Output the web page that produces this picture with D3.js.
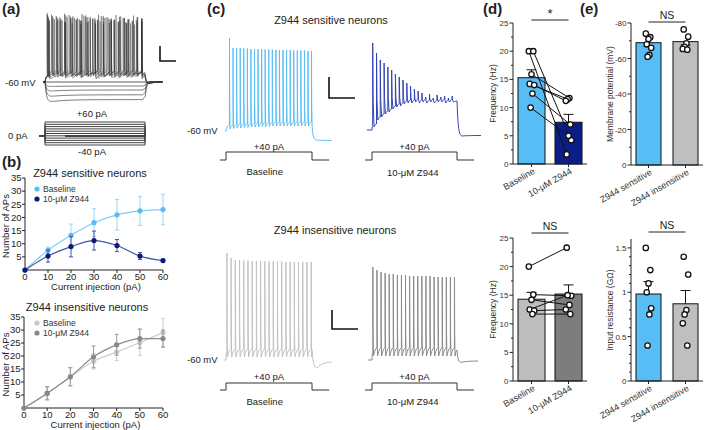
<!DOCTYPE html>
<html><head><meta charset="utf-8">
<script src="https://cdn.jsdelivr.net/npm/d3@7"></script>
<style>
body{margin:0;background:#fff}
svg{display:block}
text{font-family:"Liberation Sans",Arial,sans-serif;fill:#222}
</style>
</head><body>
<svg id="fig" width="709" height="430"></svg>
<script>
// ---------------- DATA ----------------
// (b) current–frequency curves
const currents = [0, 10, 20, 30, 40, 50, 60];
const sensBase = [0, 7.5, 13.2, 18, 21, 22.5, 23];
const sensBaseErr = [0, 1.2, 4.3, 5.3, 5.8, 5.5, 5.8];
const sensZ = [0, 5.3, 8.9, 11.2, 9.3, 5.3, 3.6];
const sensZErr = [0, 2.3, 3.9, 3.6, 2.3, 1.3, 0.5];
const insBase = [0, 5.5, 12, 18, 21.5, 25.2, 29];
const insBaseErr = [0, 2.5, 3.5, 3, 3.2, 5, 5.5];
const insZ = [0, 5.7, 12, 19.7, 24.3, 26.7, 26.7];
const insZErr = [0, 2.5, 3.5, 4.2, 4, 3.7, 3.3];
const bTicksY = [5, 10, 15, 20, 25, 30, 35];
const bTicksX = [0, 10, 20, 30, 40, 50, 60];
const legendLabels = ["Baseline", "10-\u03bcM Z944"];

// (d) firing frequency
const groups = ["Baseline", "10-\u03bcM Z944"];
const freqSensMean = [15.3, 7.4];
const freqSensSem = [1.4, 1.4];
const freqSensBase = [20, 20, 15.9, 14.2, 14, 12.5, 10];
const freqSensZ = [1.7, 4.2, 11.7, 11.5, 11.2, 7, 5];
const freqInsMean = [14.3, 15.2];
const freqInsSem = [1.2, 1.6];
const freqInsBase = [20, 15.1, 14.2, 12.5, 12.3, 11.7];
const freqInsZ = [23.3, 14.9, 13.3, 15.0, 12.5, 11.7];
const freqTicks = [0, 5, 10, 15, 20, 25];

// (e) passive properties
const cellTypes = ["Z944 sensitive", "Z944 insensitive"];
const vmMean = [-68.9, -69.5];
const vmSem = [2.1, 1.9];
const vmSens = [-74, -72, -71, -68, -66, -62, -61];
const vmIns = [-76.4, -72.3, -68.5, -66.6, -65.4, -65];
const vmTicks = [0, -20, -40, -60, -80];
const rinMean = [0.98, 0.87];
const rinSem = [0.14, 0.15];
const rinSens = [1.5, 1.25, 1.1, 1.0, 0.82, 0.75, 0.4];
const rinIns = [1.4, 1.2, 0.8, 0.75, 0.65, 0.4];
const rinTicks = [0, 0.5, 1, 1.5];

// (a) example family of responses
const aDepolCurrents = [10, 20, 30, 40, 50, 60];
const aSpikeCounts = [7, 13, 18, 21, 22, 23];
const aHyperCurrents = [-40, -30, -20, -10];
const aHyperSteady = [-82, -76, -70, -65];
const aHyperPeak = [-86, -79, -72, -66];
const protocolCurrents = [-40, -30, -20, -10, 0, 10, 20, 30, 40, 50, 60];

// (c) example traces (spike times in ms from step onset, peaks/troughs in mV)
const cSensBaseTimes = [40,82,123,165,206,248,289,331,372,414,455,497,538,580,621,663,704,746,787,829,870,912,953,994];
const cSensBasePeaks = [33,23,23,23,22.5,22.5,22,22,22,22,21.5,21.5,21.5,21,21,21,21,21,20.5,20.5,20.5,20.5,20,20];
const cSensBaseTroughs = [-58,-57.5,-57,-57,-56.5,-56.5,-56,-56,-56,-55.5,-55.5,-55.5,-55,-55,-55,-55,-55,-55,-55,-55,-55,-55,-55,-55];
const cSensZTimes = [8,53,97,142,186,231,275,320,364,409,453,498,542,587,631,676,720,765,809,854,898,943];
const cSensZPeaks = [28,18,11,8,4,1,-3,-6,-9,-12,-15,-18,-20,-22,-26,-23,-27,-24,-26,-25,-27,-25];
const cSensZTroughs = [-56,-49,-46,-43,-41,-38,-36,-35,-33,-32,-32,-31,-32,-31,-32,-31,-32,-31,-31,-32,-31,-31];
const cInsBaseTimes = [10,59,108,157,206,255,304,353,402,451,500,549,598,647,696,745,794,843,892,941,990];
const cInsBasePeaks = [47,42,40,40,39.5,39.5,39,39,39,39,38.5,38.5,38.5,38.5,38,38,38,38,38,38,38];
const cInsBaseTroughs = [-57,-57,-57,-57,-57,-57,-57,-57,-57,-57,-57,-57,-57,-57,-57,-57,-57,-57,-57,-57,-57];
const cInsZTimes = [10,58,106,154,202,250,298,346,394,442,490,538,586,634,682,730,778,826,874,922,970];
const cInsZPeaks = [33,30,28,27,26,26,25,25,25,24,24,24,24,24,24,23,23,23,23,23,23];
const cInsZTroughs = [-56,-56,-56,-56,-56,-56,-56,-56,-56,-56,-56,-56,-56,-56,-56,-56,-56,-56,-56,-56,-56];

// ---------------- HELPERS ----------------
const svg = d3.select("#fig");
svg.append("rect").attr("width", 709).attr("height", 430).attr("fill", "#fff");

function txt(x, y, s, o = {}) {
  const t = svg.append("text").attr("x", x).attr("y", y).text(s)
    .attr("font-size", o.size || 10)
    .attr("text-anchor", o.anchor || "start")
    .attr("font-weight", o.weight || "normal");
  if (o.rotate !== undefined) t.attr("transform", `rotate(${o.rotate},${x},${y})`);
  if (o.fill) t.style("fill", o.fill);
  return t;
}

function buildTrace(o) {
  const pts = [[o.tStart, o.base], [0, o.base]];
  const n = o.times.length;
  const thr = i => (i === 0 ? o.base + o.gap0 : o.troughs[i - 1] + o.gap);
  for (let i = 0; i < n; i++) {
    const ts = o.times[i];
    if (i === 0) {
      for (let k = 1; k <= 6; k++) {
        const u = k / 6;
        pts.push([ts * u, o.base + (thr(0) - o.base) * (1 - Math.exp(-3 * u)) / (1 - Math.exp(-3))]);
      }
    }
    pts.push([ts + 0.4, o.peaks[i]]);
    pts.push([ts + o.fall * 0.35, o.peaks[i] * 0.3 + o.troughs[i] * 0.7]);
    pts.push([ts + o.fall, o.troughs[i]]);
    const tNext = i < n - 1 ? o.times[i + 1] : 1000;
    const vNext = i < n - 1 ? thr(i + 1) : o.plateau;
    const t0 = ts + o.fall;
    if (tNext > t0) {
      for (let k = 1; k <= 6; k++) {
        const u = k / 6;
        pts.push([t0 + (tNext - t0) * u, o.troughs[i] + (vNext - o.troughs[i]) * (1 - (1 - u) * (1 - u))]);
      }
    }
  }
  const vOff = pts[pts.length - 1][1];
  for (let k = 1; k <= 8; k++) {
    const u = k / 8;
    pts.push([1000 + o.drop * u, vOff + (o.vMin - vOff) * (1 - Math.exp(-4 * u)) / (1 - Math.exp(-4))]);
  }
  const t1 = 1000 + o.drop;
  for (let k = 1; k <= 10; k++) {
    const u = k / 10;
    pts.push([t1 + (o.tEnd - t1) * u, o.vMin + (o.vEnd - o.vMin) * (1 - Math.exp(-3 * u)) / (1 - Math.exp(-3))]);
  }
  return pts;
}

function drawPath(pts, xs, ys, color, w, op) {
  svg.append("path").datum(pts)
    .attr("d", d3.line().x(d => xs(d[0])).y(d => ys(d[1])))
    .attr("fill", "none").attr("stroke", color).attr("stroke-width", w || 1)
    .attr("stroke-opacity", op === undefined ? 1 : op).attr("stroke-linejoin", "round");
}

function stepProtocol(xs, yp, level, tA, tB, col) {
  const pts = [[tA, 0], [0, 0], [0, level], [1000, level], [1000, 0], [tB, 0]];
  svg.append("path").datum(pts)
    .attr("d", d3.line().x(d => xs(d[0])).y(d => yp(d[1])))
    .attr("fill", "none").attr("stroke", col || "#333").attr("stroke-width", 1);
}

function scaleBar(x, y1, y2, x2) {
  svg.append("path").attr("d", `M${x},${y1}V${y2}H${x2}`)
    .attr("fill", "none").attr("stroke", "#111").attr("stroke-width", 1.6);
}

// ---------------- PANEL LABELS ----------------
txt(2, 14, "(a)", {size: 15, weight: "bold"});
txt(2, 167, "(b)", {size: 15, weight: "bold"});
txt(207, 14, "(c)", {size: 15, weight: "bold"});
txt(483, 14, "(d)", {size: 15, weight: "bold"});
txt(580, 14, "(e)", {size: 15, weight: "bold"});

// ---------------- PANEL A ----------------
{
  const xa = d3.scaleLinear().domain([0, 1000]).range([45, 145]);
  const ya = d3.scaleLinear().domain([-60, 30]).range([82, 10]);
  aHyperCurrents.forEach((c, k) => {
    const st = aHyperSteady[k], pk = aHyperPeak[k];
    const pts = [[-20, -60], [0, -60]];
    for (let t = 2; t <= 1000; t += (t < 100 ? 3 : 25)) {
      const a = 1 - Math.exp(-t / 15);
      pts.push([t, -60 + (st + 60) * a + (pk - st) * a * Math.exp(-t / 150)]);
    }
    const vOff = pts[pts.length - 1][1];
    for (let t = 1003; t <= 1180; t += (t < 1100 ? 4 : 20)) {
      pts.push([t, -60 + (vOff + 60) * Math.exp(-(t - 1000) / 15) + 1.5 * Math.exp(-(t - 1000) / 60) * (1 - Math.exp(-(t - 1000) / 15))]);
    }
    drawPath(pts, xa, ya, "#444", 0.7);
  });
  drawPath([[-20, -60], [1180, -60]], xa, ya, "#333", 0.8);
  aDepolCurrents.forEach((c, k) => {
    const n = aSpikeCounts[k];
    const first = 45 - k * 5;
    const times = d3.range(n).map(i => first + i * (965 - first) / Math.max(1, n - 1) + (i % 3) * 3);
    const peaks = times.map((t, i) => 16 + k * 2 - i * 0.15 - (i % 4) * 1.5);
    const troughs = times.map((t, i) => -56 + k * 0.8 + (i % 3));
    const pts = buildTrace({tStart: -20, tEnd: 1180, base: -60, times, peaks, troughs,
      gap0: 8, gap: 5, fall: 6, plateau: -53 + k, drop: 40, vMin: -62, vEnd: -60});
    drawPath(pts, xa, ya, "#333", 0.5, 0.8);
  });
  scaleBar(160, 46, 61, 176);
  txt(5, 86, "-60 mV", {size: 9.5});
  const yp = d3.scaleLinear().domain([-40, 60]).range([145, 122]);
  protocolCurrents.forEach(c => stepProtocol(xa, yp, c, -60, 200, "#444"));
  txt(92, 117, "+60 pA", {size: 9.5, anchor: "middle"});
  txt(92, 155, "-40 pA", {size: 9.5, anchor: "middle"});
  txt(8, 139, "0 pA", {size: 9.5});
}

// ---------------- PANEL B ----------------
function drawCurve(cfg) {
  const x = d3.scaleLinear().domain([0, 60]).range([cfg.x0, cfg.x1]);
  const y = d3.scaleLinear().domain([0, 35]).range([cfg.y0, cfg.y1]);
  const g = svg.append("g");
  g.append("line").attr("x1", x(0)).attr("x2", x(60)).attr("y1", y(0)).attr("y2", y(0)).attr("stroke", "#222");
  g.append("line").attr("x1", x(0)).attr("x2", x(0)).attr("y1", y(0)).attr("y2", y(35)).attr("stroke", "#222");
  bTicksY.forEach(v => {
    g.append("line").attr("x1", x(0) - 3).attr("x2", x(0)).attr("y1", y(v)).attr("y2", y(v)).attr("stroke", "#222");
    txt(x(0) - 3.5, y(v) + 3.3, v, {size: 9.5, anchor: "end"});
  });
  bTicksX.forEach(v => {
    g.append("line").attr("x1", x(v)).attr("x2", x(v)).attr("y1", y(0)).attr("y2", y(0) + 3).attr("stroke", "#222");
    txt(x(v), cfg.y0 + 10, v, {size: 9.5, anchor: "middle"});
  });
  txt((cfg.x0 + cfg.x1) / 2 + 2, cfg.y0 + 20, "Current injection (pA)", {size: 9.5, anchor: "middle"});
  txt(8.5, (cfg.y0 + cfg.y1) / 2 + 2, "Number of APs", {size: 9.5, anchor: "middle", rotate: -90});
  txt(cfg.titleX, cfg.titleY, cfg.title, {size: 11, anchor: "middle"});
  cfg.series.forEach(s => {
    currents.forEach((c, i) => {
      if (s.err[i] <= 0) return;
      const cx = x(c);
      g.append("path").attr("d", `M${cx},${y(s.vals[i] - s.err[i])}V${y(s.vals[i] + s.err[i])}M${cx - 2},${y(s.vals[i] - s.err[i])}h4M${cx - 2},${y(s.vals[i] + s.err[i])}h4`)
        .attr("stroke", s.errColor).attr("stroke-width", 1).attr("fill", "none");
    });
    g.append("path").datum(currents.map((c, i) => [c, s.vals[i]]))
      .attr("d", d3.line().x(d => x(d[0])).y(d => y(d[1])).curve(d3.curveMonotoneX))
      .attr("fill", "none").attr("stroke", s.lineColor).attr("stroke-width", 1.2);
    currents.forEach((c, i) => {
      g.append("circle").attr("cx", x(c)).attr("cy", y(s.vals[i])).attr("r", 2.6).attr("fill", s.color);
    });
  });
  cfg.series.forEach((s, k) => {
    g.append("circle").attr("cx", 37).attr("cy", cfg.legY + k * 10).attr("r", 2.6).attr("fill", s.color);
    txt(43, cfg.legY + k * 10 + 3, legendLabels[k], {size: 8.5, fill: "#333"});
  });
}
drawCurve({x0: 25, x1: 163, y0: 270, y1: 178, title: "Z944 sensitive neurons", titleX: 90, titleY: 177, legY: 189,
  series: [
    {vals: sensBase, err: sensBaseErr, color: "#58bdf5", lineColor: "#7fcdf6", errColor: "#97d5f7"},
    {vals: sensZ, err: sensZErr, color: "#0b1a78", lineColor: "#4455aa", errColor: "#4455aa"}
  ]});
drawCurve({x0: 24, x1: 163, y0: 408, y1: 317, title: "Z944 insensitive neurons", titleX: 87, titleY: 311, legY: 323,
  series: [
    {vals: insBase, err: insBaseErr, color: "#c8c8c8", lineColor: "#cccccc", errColor: "#cccccc"},
    {vals: insZ, err: insZErr, color: "#888888", lineColor: "#8c8c8c", errColor: "#999999"}
  ]});

// ---------------- PANEL C ----------------
{
  const xB = d3.scaleLinear().domain([0, 1000]).range([226, 312]);
  const xZ = d3.scaleLinear().domain([0, 1000]).range([372, 457]);
  const yTop = d3.scaleLinear().domain([-60, 0]).range([131, 71]);
  const yBot = d3.scaleLinear().domain([-60, 0]).range([360, 300]);
  const pTop = d3.scaleLinear().domain([0, 40]).range([160, 152]);
  const pBot = d3.scaleLinear().domain([0, 40]).range([390, 383]);

  txt(331, 24, "Z944 sensitive neurons", {size: 11, anchor: "middle"});
  txt(335, 234, "Z944 insensitive neurons", {size: 11, anchor: "middle"});

  drawPath(buildTrace({tStart: -12, tEnd: 1230, base: -60, times: cSensBaseTimes, peaks: cSensBasePeaks, troughs: cSensBaseTroughs,
    gap0: 6, gap: 4, fall: 7, plateau: -52, drop: 50, vMin: -69, vEnd: -69.5}), xB, yTop, "#5bbff5", 1);
  drawPath(buildTrace({tStart: -59, tEnd: 1282, base: -59, times: cSensZTimes, peaks: cSensZPeaks, troughs: cSensZTroughs,
    gap0: 5, gap: 3, fall: 16, plateau: -30, drop: 55, vMin: -65, vEnd: -64.5}), xZ, yTop, "#3344b5", 1);
  drawPath(buildTrace({tStart: -23, tEnd: 1233, base: -60, times: cInsBaseTimes, peaks: cInsBasePeaks, troughs: cInsBaseTroughs,
    gap0: 9, gap: 8, fall: 7, plateau: -50, drop: 60, vMin: -68, vEnd: -62}), xB, yBot, "#c2c2c2", 1);
  drawPath(buildTrace({tStart: -47, tEnd: 1247, base: -60, times: cInsZTimes, peaks: cInsZPeaks, troughs: cInsZTroughs,
    gap0: 9, gap: 8, fall: 7, plateau: -50, drop: 45, vMin: -62.5, vEnd: -61}), xZ, yBot, "#8a8a8a", 1);

  stepProtocol(xB, pTop, 40, -70, 1200);
  stepProtocol(xZ, pTop, 40, -82, 1200);
  stepProtocol(xB, pBot, 40, -70, 1200);
  stepProtocol(xZ, pBot, 40, -82, 1200);

  txt(187, 134, "-60 mV", {size: 9.5});
  txt(187, 363, "-60 mV", {size: 9.5});
  txt(xB(500), 149.5, "+40 pA", {size: 9.5, anchor: "middle"});
  txt(xZ(500), 149.5, "+40 pA", {size: 9.5, anchor: "middle"});
  txt(xB(500), 380, "+40 pA", {size: 9.5, anchor: "middle"});
  txt(xZ(500), 380, "+40 pA", {size: 9.5, anchor: "middle"});
  txt(xB(450), 175, "Baseline", {size: 9.5, anchor: "middle"});
  txt(xZ(480), 176, "10-\u03bcM Z944", {size: 9.5, anchor: "middle"});
  txt(xB(450), 405, "Baseline", {size: 9.5, anchor: "middle"});
  txt(xZ(480), 405, "10-\u03bcM Z944", {size: 9.5, anchor: "middle"});

  scaleBar(329, 77, 98, 355);
  scaleBar(332, 310, 329, 358);
}

// ---------------- PANELS D & E ----------------
function barPanel(cfg) {
  const y = d3.scaleLinear().domain(cfg.domain).range([cfg.yBottom, cfg.yTop]);
  const x = d3.scaleBand().domain(cfg.cats).range([cfg.xLeft, cfg.xRight]).paddingInner(cfg.pin).paddingOuter(0.135);
  const g = svg.append("g");
  const bw = x.bandwidth();
  cfg.cats.forEach((c, i) => {
    g.append("rect").attr("x", x(c)).attr("y", Math.min(y(0), y(cfg.mean[i])))
      .attr("width", bw).attr("height", Math.abs(y(0) - y(cfg.mean[i])))
      .attr("fill", cfg.colors[i]).attr("stroke", "#111").attr("stroke-width", 1);
    const cx = x(c) + bw / 2;
    const top = cfg.mean[i] + cfg.sign * cfg.sem[i];
    g.append("path").attr("d", `M${cx},${y(cfg.mean[i])}V${y(top)}M${cx - 5},${y(top)}h10`)
      .attr("stroke", "#111").attr("stroke-width", 1).attr("fill", "none");
  });
  g.append("line").attr("x1", cfg.xLeft).attr("x2", cfg.xRight).attr("y1", cfg.yBottom).attr("y2", cfg.yBottom).attr("stroke", "#222");
  g.append("line").attr("x1", cfg.xLeft).attr("x2", cfg.xLeft).attr("y1", cfg.yBottom).attr("y2", cfg.yTop).attr("stroke", "#222");
  cfg.minor.forEach(v => g.append("line").attr("x1", cfg.xLeft - 2).attr("x2", cfg.xLeft).attr("y1", y(v)).attr("y2", y(v)).attr("stroke", "#222"));
  cfg.ticks.forEach(v => {
    g.append("line").attr("x1", cfg.xLeft - 3.5).attr("x2", cfg.xLeft).attr("y1", y(v)).attr("y2", y(v)).attr("stroke", "#222");
    txt(cfg.xLeft - 4.5, y(v) + 3, cfg.fmt ? cfg.fmt(v) : v, {size: 8, anchor: "end", fill: "#333"});
  });
  cfg.cats.forEach((c, i) => {
    const cx = x(c) + bw / 2;
    g.append("line").attr("x1", cx).attr("x2", cx).attr("y1", cfg.yBottom).attr("y2", cfg.yBottom + 3).attr("stroke", "#222");
    txt(cx + cfg.labDx, cfg.yBottom + 9, c, {size: 9, anchor: "end", rotate: -30, fill: "#333"});
  });
  txt(cfg.titleX, (cfg.yBottom + cfg.yTop) / 2, cfg.title, {size: 8.5, anchor: "middle", rotate: -90, fill: "#333"});
  const c0 = x(cfg.cats[0]) + bw / 2, c1 = x(cfg.cats[1]) + bw / 2;
  g.append("line").attr("x1", c0).attr("x2", c1).attr("y1", cfg.sigY).attr("y2", cfg.sigY).attr("stroke", "#222").attr("stroke-width", 1);
  txt((c0 + c1) / 2, cfg.sigY - (cfg.sig === "*" ? 2 : 3), cfg.sig, {size: cfg.sig === "*" ? 13 : 10.5, anchor: "middle"});
  const jit = i => ((i * 5) % 7 - 3) * 0.9;
  if (cfg.paired) {
    cfg.pts[0].forEach((v, i) => {
      g.append("line").attr("x1", c0 + jit(i)).attr("x2", c1 + jit(i + 3))
        .attr("y1", y(v)).attr("y2", y(cfg.pts[1][i])).attr("stroke", "#111").attr("stroke-width", 1);
    });
  }
  [c0, c1].forEach((cx, k) => {
    cfg.pts[k].forEach((v, i) => {
      g.append("circle").attr("cx", cx + jit(i + 3 * k)).attr("cy", y(v)).attr("r", 2.7)
        .attr("fill", "#fff").attr("stroke", "#111").attr("stroke-width", 1.3);
    });
  });
}

barPanel({domain: [0, 25], yBottom: 164, yTop: 23, xLeft: 513, xRight: 587, pin: 0.27, cats: groups,
  mean: freqSensMean, sem: freqSensSem, sign: 1, colors: ["#58bdf5", "#0b1e88"], ticks: freqTicks,
  minor: [2.5, 7.5, 12.5, 17.5, 22.5], title: "Frequency (Hz)", titleX: 496, sig: "*", sigY: 20,
  paired: true, pts: [freqSensBase, freqSensZ], labDx: 4});
barPanel({domain: [0, 25], yBottom: 381, yTop: 238, xLeft: 513, xRight: 587, pin: 0.27, cats: groups,
  mean: freqInsMean, sem: freqInsSem, sign: 1, colors: ["#bdbdbd", "#7d7d7d"], ticks: freqTicks,
  minor: [2.5, 7.5, 12.5, 17.5, 22.5], title: "Frequency (Hz)", titleX: 496, sig: "NS", sigY: 233,
  paired: true, pts: [freqInsBase, freqInsZ], labDx: 4});
barPanel({domain: [0, -80], yBottom: 165, yTop: 23, xLeft: 631, xRight: 703, pin: 0.324, cats: cellTypes,
  mean: vmMean, sem: vmSem, sign: 1, colors: ["#58bdf5", "#bfbfbf"], ticks: vmTicks,
  minor: [-10, -30, -50, -70], title: "Membrane potential (mV)", titleX: 613, sig: "NS", sigY: 22,
  paired: false, pts: [vmSens, vmIns], labDx: 4});
barPanel({domain: [0, 1.6], yBottom: 381, yTop: 239, xLeft: 631, xRight: 703, pin: 0.324, cats: cellTypes,
  mean: rinMean, sem: rinSem, sign: 1, colors: ["#58bdf5", "#bfbfbf"], ticks: rinTicks,
  minor: [0.1, 0.2, 0.3, 0.4, 0.6, 0.7, 0.8, 0.9, 1.1, 1.2, 1.3, 1.4], fmt: d3.format("~g"),
  title: "Input resistance (G\u03a9)", titleX: 613, sig: "NS", sigY: 232,
  paired: false, pts: [rinSens, rinIns], labDx: 4});
</script>
</body></html>
